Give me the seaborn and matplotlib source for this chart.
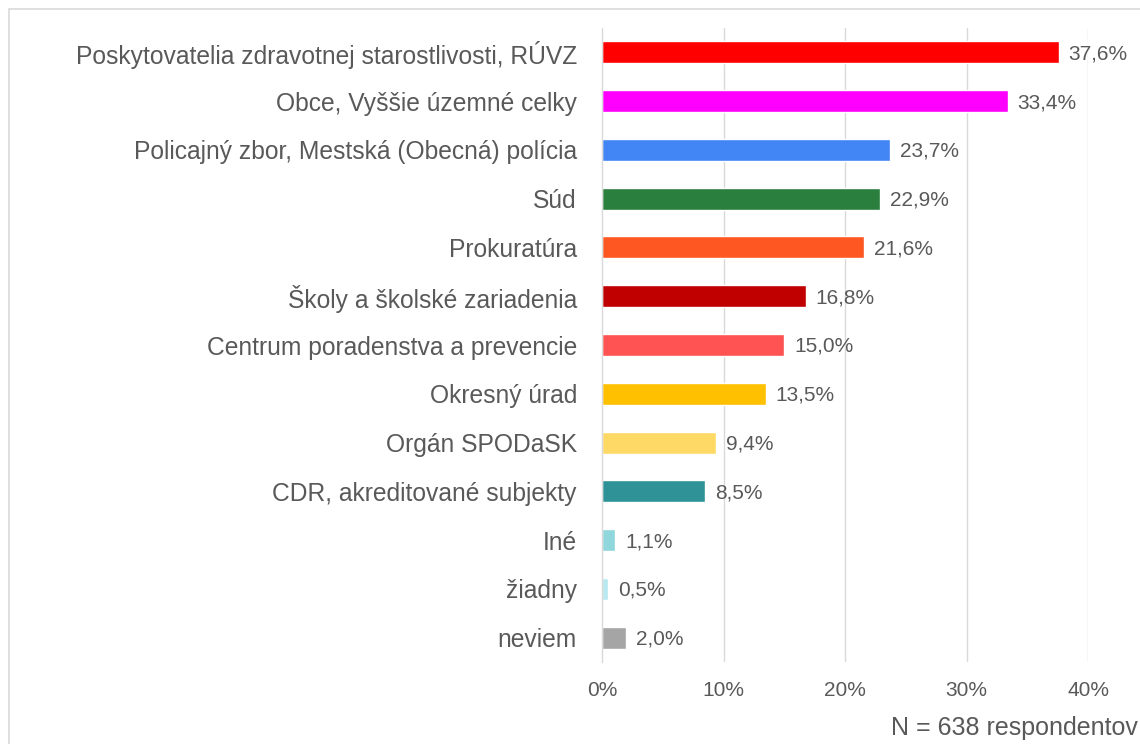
import matplotlib
matplotlib.use("Agg")
import matplotlib.pyplot as plt
import seaborn as sns
import pandas as pd
from matplotlib.patches import Rectangle

categories = [
    "Poskytovatelia zdravotnej starostlivosti, RÚVZ",
    "Obce, Vyššie územné celky",
    "Policajný zbor, Mestská (Obecná) polícia",
    "Súd",
    "Prokuratúra",
    "Školy a školské zariadenia",
    "Centrum poradenstva a prevencie",
    "Okresný úrad",
    "Orgán SPODaSK",
    "CDR, akreditované subjekty",
    "Iné",
    "žiadny",
    "neviem",
]
values = [37.6, 33.4, 23.7, 22.9, 21.6, 16.8, 15.0, 13.5, 9.4, 8.5, 1.1, 0.5, 2.0]
colors = ["#FF0000", "#FF00FF", "#4285F4", "#2A7F3E", "#FF5722", "#C00000",
          "#FF5252", "#FFC000", "#FFD966", "#2E9297", "#8FD7DC", "#B8E8F0", "#A5A5A5"]
xticks = [0, 10, 20, 30, 40]

df = pd.DataFrame({"kategoria": categories, "podiel": values})

sns.set_style("white")
plt.rcParams["font.family"] = ["Liberation Sans", "DejaVu Sans"]
text_color = "#595959"
grid_color = "#D9D9D9"

fig = plt.figure(figsize=(11.4, 7.44), dpi=100)
ax = fig.add_axes([602 / 1140, 1 - 662 / 744, (1088 - 602) / 1140, (662 - 28) / 744])

sns.barplot(data=df, x="podiel", y="kategoria", hue="kategoria", palette=colors,
            saturation=1, legend=False, width=0.45, ax=ax, orient="h")

ax.set_xlim(0, 40)
ax.set_ylim(len(categories) - 0.5, -0.5)
ax.set_xticks(xticks)
ax.set_xticklabels([f"{t}%" for t in xticks], fontsize=15, color=text_color)
ax.tick_params(axis="x", length=0, pad=14)
ax.tick_params(axis="y", length=0, pad=18, labelsize=17.7, labelcolor=text_color)
ax.set_yticks(range(len(categories)), minor=False)
ax.set_yticks([i + 0.5 for i in range(-1, len(categories))], minor=True)
ax.tick_params(axis="y", which="minor", length=5, color=grid_color, width=1)
ax.set_xlabel("")
ax.set_ylabel("")

for x in xticks[1:]:
    ax.axvline(x, color=grid_color, lw=1, zorder=0)
for s in ["top", "right", "bottom"]:
    ax.spines[s].set_visible(False)
ax.spines["left"].set_color(grid_color)
ax.spines["left"].set_linewidth(1)

for i, v in enumerate(values):
    ax.text(v + 0.8, i + 0.03, f"{v:.1f}%".replace(".", ","), va="center", ha="left",
            fontsize=15, color=text_color)

fig.text(1138 / 1140, 1 - 728 / 744, "N = 638 respondentov", ha="right", va="center",
         fontsize=18, color=text_color)

fig.patches.append(Rectangle((9 / 1140, -0.1), 1.2, 1.1 - 9 / 744, transform=fig.transFigure,
                             fill=False, edgecolor="#D9D9D9", lw=1.2))

fig.savefig("out.png", dpi=100)
